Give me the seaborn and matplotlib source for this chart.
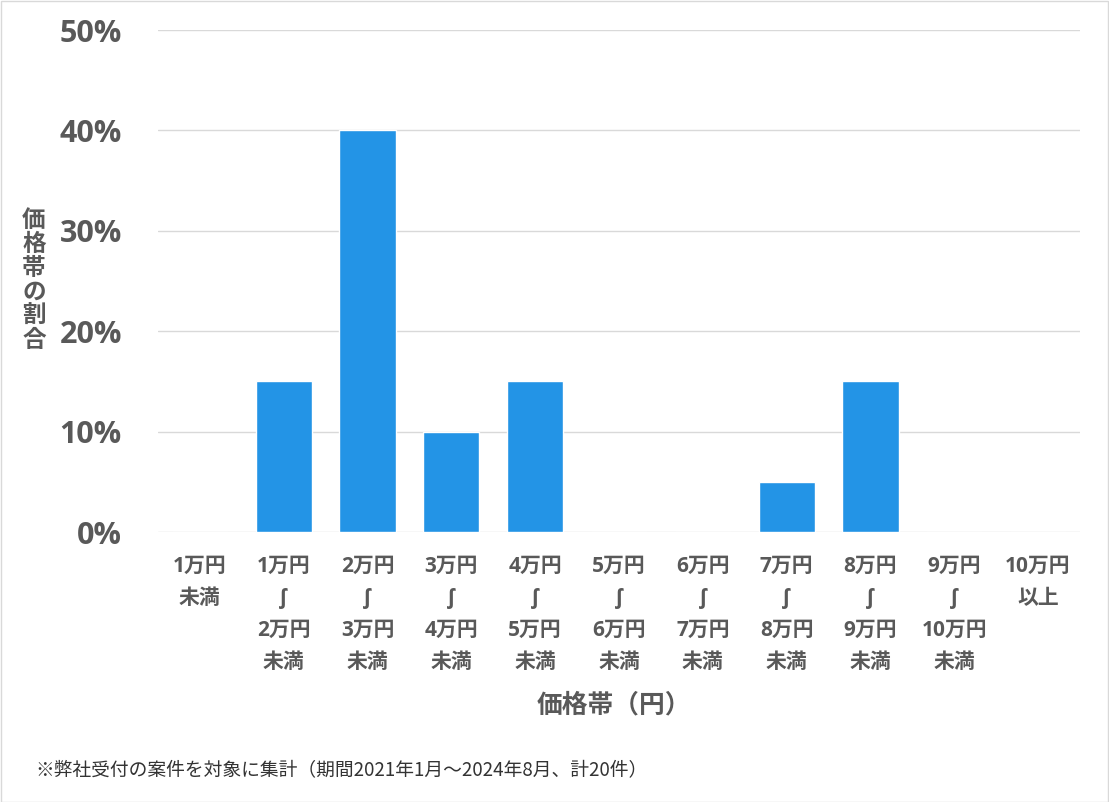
import matplotlib
matplotlib.use("Agg")
import matplotlib.pyplot as plt
import seaborn as sns
import pandas as pd
from matplotlib.patches import Rectangle

categories = ["1万円\n未満", "1万円\n∫\n2万円\n未満", "2万円\n∫\n3万円\n未満", "3万円\n∫\n4万円\n未満",
              "4万円\n∫\n5万円\n未満", "5万円\n∫\n6万円\n未満", "6万円\n∫\n7万円\n未満", "7万円\n∫\n8万円\n未満",
              "8万円\n∫\n9万円\n未満", "9万円\n∫\n10万円\n未満", "10万円\n以上"]
values = [0, 15, 40, 10, 15, 0, 0, 5, 15, 0, 0]
yticks = [0, 10, 20, 30, 40, 50]
ytick_labels = ["0%", "10%", "20%", "30%", "40%", "50%"]

sns.set_theme(style="white")
FAM = ["Open Sans", "DejaVu Sans", "Noto Sans CJK JP"]
plt.rcParams["font.family"] = FAM

GRAY = "#595959"
fig = plt.figure(figsize=(11.09, 8.02), dpi=100)
ax = fig.add_axes([158/1109, 1 - 532/802, (1080-158)/1109, (532-30)/802])

df = pd.DataFrame({"cat": categories, "val": values})
sns.barplot(data=df, x="cat", y="val", color="#2394E6", saturation=1, width=0.67, ax=ax)

ax.set_ylim(0, 50)
ax.set_yticks(yticks)
ax.set_yticklabels(ytick_labels, fontsize=22, fontweight="bold", color=GRAY, family=FAM)
ax.yaxis.grid(True, color="#D9D9D9", linewidth=1)
ax.set_axisbelow(True)
for s in ax.spines.values():
    s.set_visible(False)
ax.tick_params(axis="y", length=0, pad=26)
ax.tick_params(axis="x", length=0, pad=17)
ax.set_xticks(range(len(categories)))
ax.set_xticklabels(categories, fontsize=15, fontweight="bold", color=GRAY, family=FAM,
                   linespacing=1.69, va="top")
ax.set_xlabel("")
ax.set_ylabel("")

fig.text(537/1109, 1 - 705/802, "価格帯（円）", fontsize=18.5, fontweight="bold", color=GRAY,
         family=["Noto Sans CJK JP"], ha="left", va="center")
fig.text(34/1109, 1 - 280/802, "\n".join("価格帯の割合"), fontsize=17, fontweight="bold", color=GRAY,
         family=["Noto Sans CJK JP"], ha="center", va="center", linespacing=1.0)
fig.text(35/1109, 1 - 770/802, "※弊社受付の案件を対象に集計（期間2021年1月～2024年8月、計20件）",
         fontsize=13.5, color="#333333", family=["Noto Sans CJK JP"], ha="left", va="center")

fig.patches.append(Rectangle((0.5/1109, 0.5/802), 1 - 1.5/1109, 1 - 1.5/802, transform=fig.transFigure,
                             fill=False, edgecolor="#D9D9D9", linewidth=1))
fig.savefig("out.png", dpi=100, facecolor="white")
